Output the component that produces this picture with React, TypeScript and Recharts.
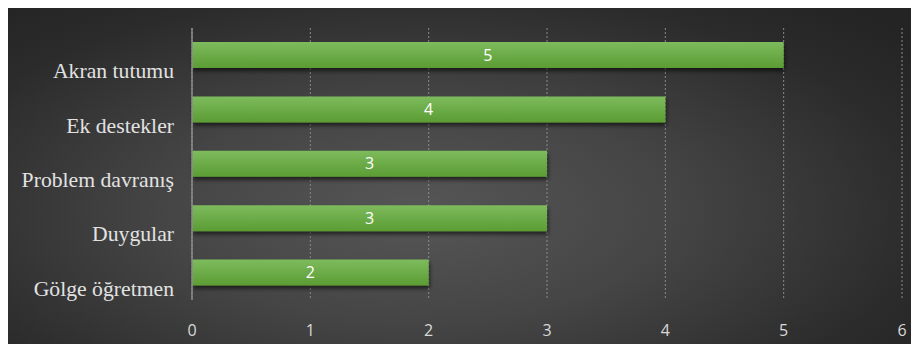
import { BarChart, Bar, XAxis, YAxis, CartesianGrid, LabelList } from 'recharts'

const categories = ['Akran tutumu', 'Ek destekler', 'Problem davranış', 'Duygular', 'Gölge öğretmen']
const counts = [5, 4, 3, 3, 2]
const xTicks = [0, 1, 2, 3, 4, 5, 6]

const data = categories.map((name, i) => ({ name, value: counts[i] }))

const CategoryTick = (props: any) => {
	const { x, y, payload } = props
	return (
		<text
			x={x - 10}
			y={y + 16}
			textAnchor="end"
			dominantBaseline="central"
			fill="#e2e2e2"
			fontSize={21.7}
			fontFamily="'Liberation Serif', 'DejaVu Serif', serif"
		>
			{payload.value}
		</text>
	)
}

const ValueTick = (props: any) => {
	const { x, y, payload } = props
	return (
		<text
			x={x}
			y={y + 22}
			textAnchor="middle"
			dominantBaseline="central"
			fill="#d9d9d9"
			fontSize={16}
			fontFamily="'Open Sans', sans-serif"
		>
			{payload.value}
		</text>
	)
}

export default function App() {
	return (
		<div style={{ position: 'relative', width: 919, height: 352, margin: -8, background: '#ffffff' }}>
			<div
				style={{
					position: 'absolute',
					left: 7,
					top: 4,
					width: 912,
					height: 346,
					background: 'radial-gradient(ellipse 70% 80% at 45% 60%, #565656 0%, #454545 40%, #2b2b2b 80%, #242424 100%)'
				}}
			>
				<BarChart
					width={912}
					height={346}
					data={data}
					layout="vertical"
					margin={{ top: 24, right: 17, left: 0, bottom: 0 }}
					barSize={26}
				>
					<defs>
						<linearGradient id="barFill" x1="0" y1="0" x2="0" y2="1">
							<stop offset="0%" stopColor="#7dbb5d" />
							<stop offset="100%" stopColor="#5b9c33" />
						</linearGradient>
						<filter id="barShadow" x="-5%" y="-30%" width="110%" height="170%">
							<feDropShadow dx="1" dy="3" stdDeviation="2" floodColor="#000" floodOpacity="0.6" />
						</filter>
					</defs>
					<CartesianGrid horizontal={false} stroke="#8a8a8a" strokeDasharray="2 2" />
					<XAxis
						type="number"
						domain={[0, 6]}
						ticks={xTicks}
						height={50}
						axisLine={false}
						tickLine={false}
						tick={<ValueTick />}
					/>
					<YAxis
						type="category"
						dataKey="name"
						width={185}
						axisLine={{ stroke: '#8c8c8c', strokeWidth: 1.5 }}
						tickLine={false}
						tick={<CategoryTick />}
					/>
					<Bar dataKey="value" fill="url(#barFill)" filter="url(#barShadow)" isAnimationActive={false}>
						<LabelList
							dataKey="value"
							position="center"
							fill="#ffffff"
							fontSize={16}
							fontFamily="'Open Sans', sans-serif"
						/>
					</Bar>
				</BarChart>
			</div>
		</div>
	)
}
